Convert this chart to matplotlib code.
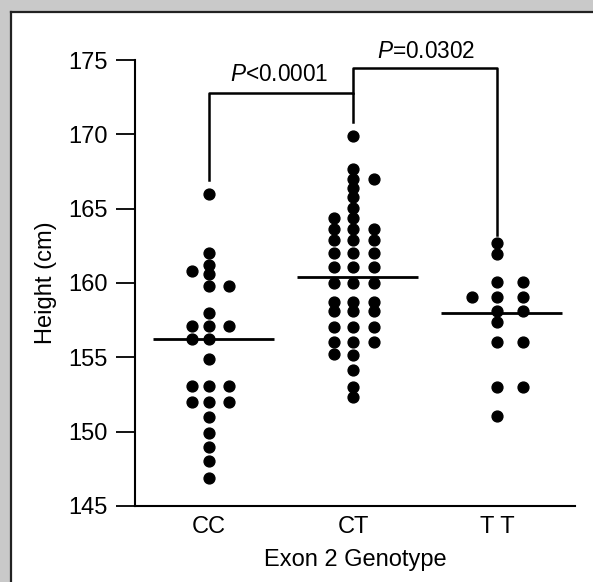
import matplotlib
matplotlib.use("Agg")
import matplotlib.pyplot as plt
from matplotlib.patches import Rectangle

plt.rcParams['font.family'] = ['Liberation Sans', 'DejaVu Sans']
plt.rcParams['mathtext.fontset'] = 'custom'
plt.rcParams['mathtext.it'] = 'Liberation Sans:italic'
plt.rcParams['mathtext.rm'] = 'Liberation Sans'

# genotype groups
genotypes = ['CC', 'CT', 'T T']

# heights (cm), split by the column the dot sits in (left / middle / right)
cc_left = [160.8, 157.1, 156.2, 153.1, 152.0]
cc_mid = [166.0, 162.0, 161.2, 160.6, 159.8, 158.0, 157.1, 156.2, 154.9,
          153.1, 152.0, 151.0, 149.9, 149.0, 148.0, 146.9]
cc_right = [159.8, 157.1, 153.1, 152.0]

ct_left = [164.35, 163.6, 162.9, 162.0, 161.1, 160.0, 158.7, 158.1, 157.07,
           156.06, 155.2]
ct_mid = [169.9, 167.65, 166.98, 166.37, 165.77, 165.03, 164.35, 163.6, 162.9,
          162.0, 161.1, 160.0, 158.7, 158.1, 157.07, 156.06, 155.16, 154.15,
          153.03, 152.36]
ct_right = [166.98, 163.6, 162.9, 162.0, 161.1, 160.0, 158.7, 158.1, 157.07,
            156.06]

tt_left = [159.04]
tt_mid = [162.67, 161.93, 160.09, 159.04, 158.14, 157.36, 156.0, 153.03, 151.06]
tt_right = [160.09, 159.04, 158.14, 156.0, 153.03]

group_lines = [156.2, 160.4, 158.0]

p_labels = ['$P$<0.0001', '$P$=0.0302']

groups = [(cc_left, cc_mid, cc_right),
          (ct_left, ct_mid, ct_right),
          (tt_left, tt_mid, tt_right)]
col_off = [(-0.12, 0.0, 0.14), (-0.13, 0.0, 0.145), (-0.175, 0.0, 0.178)]

fig = plt.figure(figsize=(5.93, 5.82), dpi=100)
ax = fig.add_axes([0.2277, 0.1306, 0.7419, 0.7663])

for i, (cols, offs) in enumerate(zip(groups, col_off)):
    for vals, o in zip(cols, offs):
        ax.plot([i + o] * len(vals), vals, 'o', color='black', ms=7.8,
                mec='black', clip_on=False, zorder=3)
    ax.plot([i - 0.39, i + 0.45], [group_lines[i]] * 2, color='black',
            lw=2.0, solid_capstyle='butt', zorder=2)

# significance brackets
ax.plot([0, 0, 1, 1], [166.9, 172.8, 172.8, 170.8], color='black', lw=1.8,
        clip_on=False)
ax.plot([1, 1, 2, 2], [172.8, 174.45, 174.45, 163.2], color='black', lw=1.8,
        clip_on=False)
ax.text(0.485, 174.0, p_labels[0], ha='center', va='center', fontsize=16.3,
        clip_on=False)
ax.text(1.505, 175.55, p_labels[1], ha='center', va='center', fontsize=16.3,
        clip_on=False)

ax.set_xlim(-0.514, 2.54)
ax.set_ylim(145, 175)
ax.set_yticks([145, 150, 155, 160, 165, 170, 175])
ax.set_xticks([0, 1, 2])
ax.set_xticklabels(genotypes)
ax.tick_params(axis='y', direction='out', length=13.7, width=1.3,
               labelsize=17, pad=6)
ax.tick_params(axis='x', length=0, labelsize=17, pad=7)
ax.spines['top'].set_visible(False)
ax.spines['right'].set_visible(False)
ax.spines['left'].set_linewidth(1.5)
ax.spines['bottom'].set_linewidth(1.5)
ax.set_ylabel('Height (cm)', fontsize=17, labelpad=8)
ax.set_xlabel('Exon 2 Genotype', fontsize=17, labelpad=8)

# grey frame on top and left of the panel
W, H = 593, 582
fig.patches.append(Rectangle((0, 1 - 12 / H), 1, 12 / H, transform=fig.transFigure,
                             facecolor='#c9c9c9', edgecolor='none', zorder=0))
fig.patches.append(Rectangle((0, 0), 11 / W, 1, transform=fig.transFigure,
                             facecolor='#c9c9c9', edgecolor='none', zorder=0))
fig.lines.append(plt.Line2D([11 / W, 11 / W], [0, 1 - 12 / H],
                            transform=fig.transFigure, color='#222222', lw=1.6))
fig.lines.append(plt.Line2D([11 / W, 1], [1 - 12 / H, 1 - 12 / H],
                            transform=fig.transFigure, color='#222222', lw=1.6))

fig.savefig('out.png', dpi=100)
